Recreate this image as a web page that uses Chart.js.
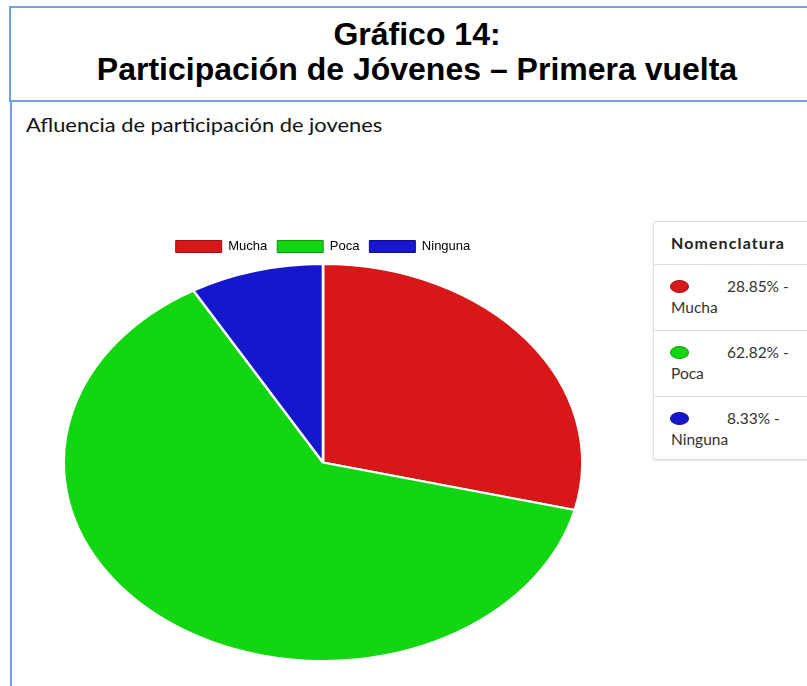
<!DOCTYPE html>
<html>
<head>
<meta charset="utf-8">
<script src="https://cdn.jsdelivr.net/npm/chart.js@4/dist/chart.umd.min.js"></script>
<style>
  body { margin: 0; width: 807px; height: 686px; overflow: hidden; background: #fff; position: relative; }
  #title-box {
    position: absolute; left: 9px; top: 6px; width: 812px; height: 96px;
    border: 2px solid #6fa3dc; box-sizing: border-box;
  }
  .title-line {
    position: absolute; left: 0; width: 812px; text-align: center;
    font-family: "Liberation Sans", Arial, sans-serif; font-weight: bold;
    font-size: 32px; color: #000; line-height: 36px;
  }
  #panel {
    position: absolute; left: 10px; top: 102px; width: 900px; height: 700px;
    border-left: 2px solid #6fa3dc; box-sizing: border-box;
  }
  #subtitle {
    position: absolute; left: 26px; top: 113px;
    font-family: Lato, sans-serif; font-size: 19px; color: #111;
    transform: scaleX(1.15); transform-origin: left center; white-space: nowrap;
  }
  #chart-wrap { position: absolute; left: 0; top: 230px; width: 646px; height: 432px; }
  #nomenclatura {
    position: absolute; left: 653px; top: 221px; width: 180px; height: 239px;
    border: 1px solid #dcdcdc; border-radius: 3px; box-sizing: border-box;
    box-shadow: 0 1px 2px rgba(0,0,0,0.12);
    font-family: Lato, sans-serif; color: #333; background: #fff;
  }
  #nomenclatura .head { height: 42px; line-height: 42px; padding-left: 17px; font-weight: bold; font-size: 16px; letter-spacing: 1.1px; border-bottom: 1px solid #dcdcdc; color: #222; }
  #nomenclatura .row { height: 65px; border-bottom: 1px solid #dcdcdc; font-size: 15.5px; position: relative; }
  #nomenclatura .row:last-child { border-bottom: none; }
  #nomenclatura .dot { position: absolute; left: 16px; top: 15px; width: 19px; height: 13px; border-radius: 50%; box-sizing: border-box; }
  #nomenclatura .pct { position: absolute; left: 73px; top: 12px; }
  #nomenclatura .lbl { position: absolute; left: 17px; top: 33px; }
</style>
</head>
<body>
<div id="title-box">
  <div class="title-line" style="top:8px">Gráfico 14:</div>
  <div class="title-line" style="top:43px">Participación de Jóvenes – Primera vuelta</div>
</div>
<div id="panel"></div>
<div id="subtitle">Afluencia de participación de jovenes</div>
<div id="chart-wrap"><canvas id="pieChart" width="646" height="432"></canvas></div>
<div id="nomenclatura"></div>
<script>
const categories = ['Mucha', 'Poca', 'Ninguna'];
const percentages = [28.85, 62.82, 8.33];
const sliceColors = ['#d81818', '#13d613', '#1616cc'];
const edgeColors = ['#9c1010', '#0e9a0e', '#0e0e8c'];

// pie in the reference is wider than tall
const STRETCH_X = 260 / 199;

const stretchPie = {
  id: 'stretchPie',
  beforeDatasetsDraw(chart) {
    const arc = chart.getDatasetMeta(0).data[0];
    const ctx = chart.ctx;
    ctx.save();
    ctx.translate(arc.x, arc.y);
    ctx.scale(STRETCH_X, 1);
    ctx.translate(-arc.x, -arc.y);
  },
  afterDatasetsDraw(chart) {
    chart.ctx.restore();
  }
};

new Chart(document.getElementById('pieChart'), {
  type: 'pie',
  data: {
    labels: categories,
    datasets: [{
      data: percentages,
      backgroundColor: sliceColors,
      borderColor: '#fff',
      borderWidth: 2
    }]
  },
  options: {
    responsive: false,
    animation: false,
    layout: { padding: { top: 0, bottom: 0 } },
    plugins: {
      tooltip: { enabled: false },
      legend: {
        position: 'top',
        labels: {
          boxWidth: 46,
          boxHeight: 12,
          padding: 10,
          color: '#444',
          font: { family: 'Liberation Sans, Arial, sans-serif', size: 13 },
          generateLabels(chart) {
            return categories.map((c, i) => ({
              text: c,
              fillStyle: sliceColors[i],
              strokeStyle: edgeColors[i],
              lineWidth: 1,
              index: i,
              hidden: false
            }));
          }
        }
      }
    }
  },
  plugins: [stretchPie]
});

// side table
const nom = document.getElementById('nomenclatura');
nom.innerHTML = '<div class="head">Nomenclatura</div>' + categories.map((c, i) =>
  `<div class="row"><span class="dot" style="background:${sliceColors[i]};border:1px solid ${edgeColors[i]}"></span>` +
  `<span class="pct">${percentages[i].toFixed(2)}% -</span><span class="lbl">${c}</span></div>`
).join('');
</script>
</body>
</html>
